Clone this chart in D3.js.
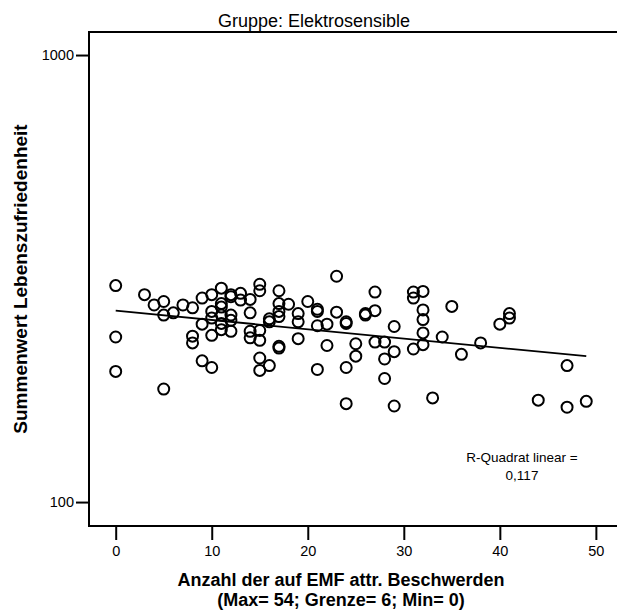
<!DOCTYPE html>
<html>
  <head>
    <meta charset="utf-8">
    <style>
      html, body {
        margin: 0px;
        padding: 0px;
        background: #fff;
      }
      svg {
        display: block;
      }
      text {
        font-family: Arial, "Liberation Sans", sans-serif;
        fill: #000;
      }
    </style>
  </head>
  <body>
    <svg id="chart" width="617" height="614"></svg>
    <script src="https://cdnjs.cloudflare.com/ajax/libs/d3/7.8.5/d3.min.js" charset="utf-8"></script>
    <script>
      // Anzahl Beschwerden (x) und Summenwert (y), paarweise
      var complaints = [
        0, 0, 0,
        3, 4,
        5, 5, 5,
        6, 7,
        8, 8, 8,
        9, 9, 9,
        10, 10, 10, 10, 10,
        11, 11, 11, 11, 11, 11,
        12, 12, 12, 12, 12,
        13, 13,
        14, 14, 14, 14,
        15, 15, 15, 15, 15, 15,
        16, 16, 16,
        17, 17, 17, 17, 17, 17,
        18,
        19, 19, 19,
        20,
        21, 21, 21, 21,
        22, 22,
        23, 23,
        24, 24, 24, 24,
        25, 25,
        26, 26,
        27, 27, 27,
        28, 28, 28,
        29, 29, 29,
        31, 31, 31,
        32, 32, 32, 32, 32,
        33, 34, 35, 36, 38, 40,
        41, 41,
        44,
        47, 47,
        49
      ];
      var satisfaction = [
        305, 234, 196,
        291, 276,
        281, 262, 179,
        265, 276,
        272, 235, 227,
        286, 250, 207,
        291, 267, 258, 236, 200,
        301, 278, 273, 262, 251, 243,
        291, 288, 262, 255, 241,
        293, 283,
        284, 265, 241, 233,
        307, 297, 242, 230, 210, 197,
        257, 253, 202,
        297, 278, 267, 260, 223, 221,
        277,
        264, 253, 232,
        281,
        270, 267, 248, 198,
        250, 224,
        320, 266,
        253, 251, 200, 166,
        226, 212,
        264, 262,
        295, 268, 228,
        228, 209, 189,
        247, 217, 164,
        295, 286, 220,
        296, 269, 256, 239, 225,
        171, 234, 274, 214, 227, 250,
        264, 258,
        169,
        202, 163,
        168
      ];
      // Regressionsgerade (Endpunkte)
      var fitX = [0, 49];
      var fitY = [268, 212];

      var xTicks = [0, 10, 20, 30, 40, 50];
      var yTicks = [100, 1000];

      var titleText = 'Gruppe: Elektrosensible';
      var xTitle = ['Anzahl der auf EMF attr. Beschwerden', '(Max= 54; Grenze= 6; Min= 0)'];
      var yTitle = 'Summenwert Lebenszufriedenheit';
      var rsqText = ['R-Quadrat linear =', '0,117'];

      var svg = d3.select('#chart');
      var plotLeft = 89, plotTop = 32, plotRight = 620, plotBottom = 526;

      var x = d3.scaleLinear().domain([-2.78, 52.2]).range([plotLeft, 617]);
      var y = d3.scaleLog().domain([88.4, 1126]).range([plotBottom, plotTop]);

      // Rahmen
      svg.append('rect')
        .attr('x', plotLeft).attr('y', plotTop)
        .attr('width', plotRight - plotLeft).attr('height', plotBottom - plotTop)
        .attr('fill', 'none').attr('stroke', '#000').attr('stroke-width', 2);

      var xAxis = svg.append('g')
        .attr('transform', 'translate(0,' + plotBottom + ')')
        .call(d3.axisBottom(x).tickValues(xTicks).tickSize(14).tickPadding(6).tickSizeOuter(0));
      xAxis.select('.domain').remove();
      xAxis.selectAll('line').attr('stroke-width', 2);
      xAxis.selectAll('text').style('font-size', '14.5px').style('font-family', 'Arial, "Liberation Sans", sans-serif');

      var yAxis = svg.append('g')
        .attr('transform', 'translate(' + plotLeft + ',0)')
        .call(d3.axisLeft(y).tickValues(yTicks).tickFormat(d3.format('d')).tickSize(13).tickPadding(2).tickSizeOuter(0));
      yAxis.select('.domain').remove();
      yAxis.selectAll('line').attr('stroke-width', 2);
      yAxis.selectAll('text').style('font-size', '14.5px').style('font-family', 'Arial, "Liberation Sans", sans-serif');

      // Punkte
      svg.append('g').selectAll('circle')
        .data(complaints)
        .enter().append('circle')
        .attr('cx', function(d) { return x(d); })
        .attr('cy', function(d, i) { return y(satisfaction[i]); })
        .attr('r', 5.5)
        .attr('fill', 'none')
        .attr('stroke', '#000')
        .attr('stroke-width', 2);

      // Linie
      svg.append('line')
        .attr('x1', x(fitX[0])).attr('y1', y(fitY[0]))
        .attr('x2', x(fitX[1])).attr('y2', y(fitY[1]))
        .attr('stroke', '#000').attr('stroke-width', 1.8);

      svg.append('text')
        .attr('x', 314).attr('y', 27)
        .attr('text-anchor', 'middle')
        .style('font-size', '18px')
        .text(titleText);

      svg.append('text')
        .attr('x', 341).attr('y', 586)
        .attr('text-anchor', 'middle')
        .style('font-size', '18px').style('font-weight', 'bold')
        .text(xTitle[0]);
      svg.append('text')
        .attr('x', 341).attr('y', 606)
        .attr('text-anchor', 'middle')
        .style('font-size', '18px').style('font-weight', 'bold')
        .text(xTitle[1]);

      svg.append('text')
        .attr('transform', 'translate(27,279) rotate(-90)')
        .attr('text-anchor', 'middle')
        .style('font-size', '19px').style('font-weight', 'bold')
        .text(yTitle);

      svg.append('text')
        .attr('x', 522).attr('y', 462)
        .attr('text-anchor', 'middle')
        .style('font-size', '13.5px')
        .text(rsqText[0]);
      svg.append('text')
        .attr('x', 522).attr('y', 480)
        .attr('text-anchor', 'middle')
        .style('font-size', '13.5px')
        .text(rsqText[1]);
    </script>
  </body>
</html>
